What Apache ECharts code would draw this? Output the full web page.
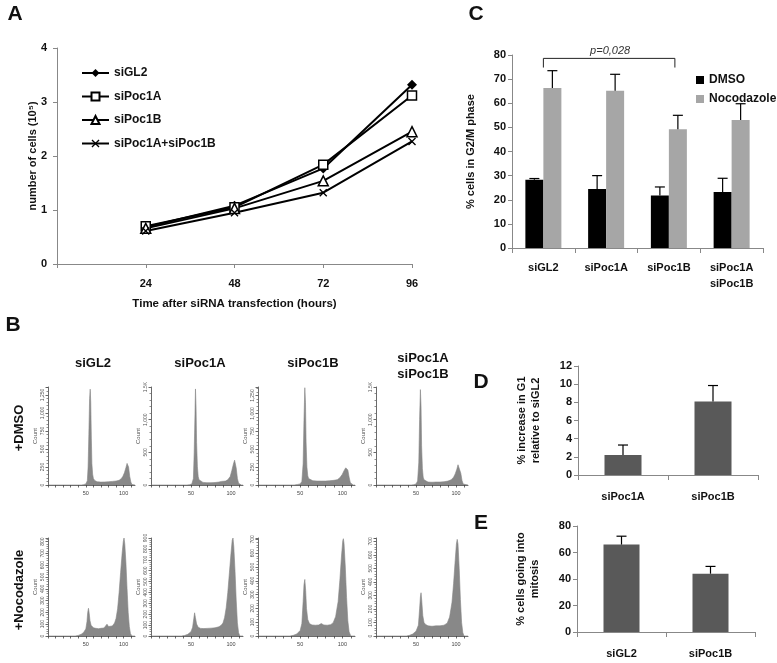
<!DOCTYPE html>
<html><head><meta charset="utf-8">
<script src="https://cdn.jsdelivr.net/npm/echarts/dist/echarts.min.js"></script>
<style>html,body{margin:0;padding:0;background:#fff}#c{width:777px;height:663px}</style>
</head><body><div id="c"></div>
<script>
// ---------- Panel A data ----------
const hoursA = [24, 48, 72, 96];
const aGL2 = [0.68, 1.08, 1.77, 3.32];
const aPoc1A = [0.70, 1.05, 1.84, 3.12];
const aPoc1B = [0.66, 1.03, 1.54, 2.45];
const aPoc1AB = [0.61, 0.95, 1.32, 2.27];
const aTicks = [0, 1, 2, 3, 4];

// ---------- Panel C data ----------
const cCats = ['siGL2', 'siPoc1A', 'siPoc1B', 'siPoc1A\nsiPoc1B'];
const cDMSO = [28.3, 24.5, 21.8, 23.2];
const cDMSOsd = [0.5, 5.5, 3.5, 5.7];
const cNoco = [66.3, 65.2, 49.2, 53.1];
const cNocoSd = [7.2, 6.8, 5.8, 6.7];
const cPText = 'p=0,028';

// ---------- Panel D data ----------
const dCats = ['siPoc1A', 'siPoc1B'];
const dVals = [2.2, 8.1];
const dSd = [1.1, 1.75];

// ---------- Panel E data ----------
const eCats = ['siGL2', 'siPoc1B'];
const eVals = [66, 44];
const eSd = [6.3, 5.5];

// ---------- Panel B histograms (DNA content vs Count) ----------
const bCols = ['siGL2', 'siPoc1A', 'siPoc1B', 'siPoc1A\nsiPoc1B'];
const hDmsoGL2 = [[0,0],[44,0],[47,5],[50,15],[52,60],[53,250],[54,700],[55,1200],[55.8,1330],[56.5,1150],[57.3,650],[58,300],[59,150],[60,90],[62,60],[65,45],[70,40],[75,42],[80,45],[85,50],[90,55],[94,65],[97,90],[99,120],[101,170],[103,240],[104.5,300],[105.5,310],[106.5,250],[108,120],[109.5,40],[111,8],[113,0],[115,0]];
const hDmsoPoc1A = [[0,0],[45,0],[48,5],[51,15],[53,100],[54,500],[55,1100],[55.6,1470],[56.3,1200],[57,650],[58,280],[59,130],[60,80],[62,50],[65,40],[70,35],[75,35],[80,38],[85,45],[88,55],[90,60],[93,60],[96,80],[99,130],[101,220],[103,320],[104.5,380],[105.5,360],[106.5,260],[108,100],[109.5,25],[111,5],[113,0],[115,0]];
const hDmsoPoc1B = [[0,0],[43,0],[47,8],[50,15],[52,50],[53.5,300],[54.5,900],[55.5,1360],[56.3,1150],[57,600],[58,250],[59,130],[60,90],[62,70],[65,60],[70,55],[75,55],[80,55],[85,60],[90,65],[94,75],[97,100],[100,150],[102,200],[104,240],[105.5,250],[106.5,210],[108,110],[109.5,30],[111,5],[113,0],[115,0]];
const hDmsoPoc1AB = [[0,0],[44,0],[47,5],[50,15],[52,60],[53.5,350],[54.5,1000],[55.5,1460],[56.3,1200],[57,600],[58,250],[59,120],[60,80],[62,55],[65,45],[70,42],[75,45],[80,45],[85,50],[90,60],[94,80],[97,120],[99,170],[101,240],[102.5,310],[103.5,330],[104.5,300],[106,180],[107.5,70],[109,15],[111,0],[115,0]];
const hNocoGL2 = [[0,0],[36,0],[40,5],[44,15],[47,30],[50,60],[51.5,120],[52.5,200],[53.5,235],[54.5,190],[55.5,130],[57,90],[60,70],[63,65],[67,62],[70,65],[74,68],[76,75],[78,100],[80,80],[82,82],[85,85],[88,110],[90,150],[92,230],[94,370],[96,540],[98,700],[99.5,800],[100.5,830],[101.5,780],[103,620],[104.5,400],[106,200],[107.5,80],[109,20],[111,0],[115,0]];
const hNocoPoc1A = [[0,0],[38,0],[42,5],[46,15],[50,40],[52,80],[53.5,160],[54.5,213],[55.5,170],[57,110],[59,80],[62,70],[66,68],[70,70],[75,72],[80,75],[85,85],[88,100],[90,120],[92,170],[94,260],[96,400],[98,580],[100,760],[101.5,880],[102.5,900],[103.5,820],[105,600],[106.5,330],[108,120],[109.5,30],[111,0],[115,0]];
const hNocoPoc1B = [[0,0],[38,0],[42,5],[46,15],[50,40],[52,90],[53.5,250],[54.5,370],[55.5,410],[56.5,330],[57.5,200],[59,120],[61,90],[64,80],[68,78],[72,80],[75,90],[78,80],[82,78],[86,82],[89,95],[92,140],[95,250],[97,400],[99,580],[100.5,690],[101.2,705],[102,670],[103.5,500],[105,280],[106.5,110],[108,30],[110,0],[115,0]];
const hNocoPoc1AB = [[0,0],[38,0],[42,5],[46,15],[50,35],[53,80],[54.5,200],[55.5,290],[56.3,320],[57.2,260],[58.5,150],[60,100],[62,85],[65,75],[70,72],[75,75],[80,75],[85,80],[89,95],[92,140],[95,250],[97,390],[99,560],[100.5,680],[101.5,715],[102.5,680],[104,500],[105.5,270],[107,100],[108.5,25],[110,0],[115,0]];
const hMax = [1360, 1500, 1370, 1500, 830, 900, 710, 725];
const hStep = [250, 500, 250, 500, 100, 100, 100, 100];
const hXLabels = [50, 100];

const FONT = "'Liberation Sans', Arial, sans-serif";
const AX = '#888';

const chart = echarts.init(document.getElementById('c'));

const grids = [];
const xAxes = [];
const yAxes = [];
const series = [];

// ---- A ----
grids.push({left: 57, top: 48, width: 355, height: 216});
xAxes.push({gridIndex: 0, type: 'value', min: 0, max: 96, interval: 24,
  axisLine: {lineStyle: {color: AX}}, axisTick: {show: true, length: 4, lineStyle: {color: AX}},
  splitLine: {show: false},
  axisLabel: {formatter: v => v === 0 ? '' : v, fontFamily: FONT, fontWeight: 'bold', fontSize: 11, color: '#111', margin: 14},
  name: 'Time after siRNA transfection (hours)', nameLocation: 'middle', nameGap: 34,
  nameTextStyle: {fontFamily: FONT, fontWeight: 'bold', fontSize: 11.5, color: '#111'}});
yAxes.push({gridIndex: 0, type: 'value', min: aTicks[0], max: aTicks[aTicks.length - 1], interval: 1,
  axisLine: {show: true, lineStyle: {color: AX}}, axisTick: {show: true, length: 4, lineStyle: {color: AX}},
  splitLine: {show: false},
  axisLabel: {fontFamily: FONT, fontWeight: 'bold', fontSize: 11, color: '#111', margin: 10},
  name: 'number of cells (10⁵)', nameLocation: 'middle', nameGap: 19, nameMoveOverlap: false,
  nameTextStyle: {fontFamily: FONT, fontWeight: 'bold', fontSize: 11, color: '#111'}});
const xPath = 'path://M0,1.2L1.2,0L5,3.8L8.8,0L10,1.2L6.2,5L10,8.8L8.8,10L5,6.2L1.2,10L0,8.8L3.8,5Z';
const aSeries = [
  {name: 'siGL2', data: aGL2, symbol: 'diamond', symbolSize: 10, fill: '#000'},
  {name: 'siPoc1A', data: aPoc1A, symbol: 'rect', symbolSize: 9, fill: '#fff'},
  {name: 'siPoc1B', data: aPoc1B, symbol: 'triangle', symbolSize: 10, fill: '#fff'},
  {name: 'siPoc1A+siPoc1B', data: aPoc1AB, symbol: xPath, symbolSize: 8, fill: '#000'}
];
aSeries.forEach(s => {
  series.push({type: 'line', name: s.name, xAxisIndex: 0, yAxisIndex: 0,
    data: hoursA.map((h, i) => [h, s.data[i]]),
    symbol: s.symbol, symbolSize: s.symbolSize, showAllSymbol: true,
    lineStyle: {color: '#000', width: 2},
    itemStyle: {color: s.fill, borderColor: '#000', borderWidth: s.fill === '#fff' ? 1.5 : 0},
    z: 3});
});

// ---- C ----
grids.push({left: 512, top: 55, width: 251, height: 193});
xAxes.push({gridIndex: 1, type: 'category', data: cCats,
  axisLine: {lineStyle: {color: AX}}, axisTick: {show: true, length: 5, lineStyle: {color: AX}},
  axisLabel: {interval: 0, fontFamily: FONT, fontWeight: 'bold', fontSize: 11, color: '#111', margin: 12, lineHeight: 16}});
yAxes.push({gridIndex: 1, type: 'value', min: 0, max: 80, interval: 10,
  axisLine: {show: true, lineStyle: {color: AX}}, axisTick: {show: true, length: 4, lineStyle: {color: AX}},
  splitLine: {show: false},
  axisLabel: {fontFamily: FONT, fontWeight: 'bold', fontSize: 11, color: '#111', margin: 6},
  name: '% cells in G2/M phase', nameLocation: 'middle', nameGap: 36,
  nameTextStyle: {fontFamily: FONT, fontWeight: 'bold', fontSize: 11, color: '#111'}});
series.push({type: 'bar', name: 'DMSO', xAxisIndex: 1, yAxisIndex: 1, data: cDMSO, barWidth: 18, barGap: '0%', itemStyle: {color: '#000'}});
series.push({type: 'bar', name: 'Nocodazole', xAxisIndex: 1, yAxisIndex: 1, data: cNoco, barWidth: 18, barGap: '0%', itemStyle: {color: '#a6a6a6'}});

function errSeries(xi, yi, means, sds, offset, cap) {
  return {type: 'custom', xAxisIndex: xi, yAxisIndex: yi, z: 5,
    data: means.map((m, i) => [i, m, sds[i]]),
    renderItem: function (params, api) {
      const p0 = api.coord([api.value(0), api.value(1)]);
      const p1 = api.coord([api.value(0), api.value(1) + api.value(2)]);
      const x = p0[0] + offset;
      return {type: 'group', children: [
        {type: 'line', shape: {x1: x, y1: p0[1], x2: x, y2: p1[1]}, style: {stroke: '#000', lineWidth: 1.2}},
        {type: 'line', shape: {x1: x - cap, y1: p1[1], x2: x + cap, y2: p1[1]}, style: {stroke: '#000', lineWidth: 1.2}}
      ]};
    }};
}
series.push(errSeries(1, 1, cDMSO, cDMSOsd, -9, 5));
series.push(errSeries(1, 1, cNoco, cNocoSd, 9, 5));
// significance bracket between siGL2 and siPoc1B
series.push({type: 'custom', xAxisIndex: 1, yAxisIndex: 1, z: 6,
  data: [[0, 2, 78.6, 74.8]],
  renderItem: function (params, api) {
    const pL = api.coord([api.value(0), api.value(2)]);
    const pR = api.coord([api.value(1), api.value(2)]);
    const pB = api.coord([api.value(0), api.value(3)]);
    const xR = pR[0] + 6;
    return {type: 'group', children: [
      {type: 'polyline', shape: {points: [[pL[0], pB[1]], [pL[0], pL[1]], [xR, pL[1]], [xR, pB[1]]]}, style: {stroke: '#222', lineWidth: 1, fill: null}},
      {type: 'text', x: (pL[0] + xR) / 2 + 1, y: pL[1] - 2, style: {text: cPText, font: 'italic 11px ' + FONT, fill: '#333', textAlign: 'center', textVerticalAlign: 'bottom'}}
    ]};
  }});

// ---- D ----
grids.push({left: 578, top: 366, width: 180, height: 109});
xAxes.push({gridIndex: 2, type: 'category', data: dCats,
  axisLine: {lineStyle: {color: AX}}, axisTick: {show: true, length: 5, lineStyle: {color: AX}},
  axisLabel: {interval: 0, fontFamily: FONT, fontWeight: 'bold', fontSize: 11, color: '#111', margin: 16}});
yAxes.push({gridIndex: 2, type: 'value', min: 0, max: 12, interval: 2,
  axisLine: {show: true, lineStyle: {color: AX}}, axisTick: {show: true, length: 4, lineStyle: {color: AX}},
  splitLine: {show: false},
  axisLabel: {fontFamily: FONT, fontWeight: 'bold', fontSize: 11, color: '#111', margin: 6},
  name: '% increase in G1\nrelative to siGL2', nameLocation: 'middle', nameGap: 35,
  nameTextStyle: {fontFamily: FONT, fontWeight: 'bold', fontSize: 11, color: '#111', lineHeight: 14}});
series.push({type: 'bar', xAxisIndex: 2, yAxisIndex: 2, data: dVals, barWidth: 37, itemStyle: {color: '#595959'}});
series.push(errSeries(2, 2, dVals, dSd, 0, 5));

// ---- E ----
grids.push({left: 577, top: 526, width: 178, height: 106});
xAxes.push({gridIndex: 3, type: 'category', data: eCats,
  axisLine: {lineStyle: {color: AX}}, axisTick: {show: true, length: 5, lineStyle: {color: AX}},
  axisLabel: {interval: 0, fontFamily: FONT, fontWeight: 'bold', fontSize: 11, color: '#111', margin: 16}});
yAxes.push({gridIndex: 3, type: 'value', min: 0, max: 80, interval: 20,
  axisLine: {show: true, lineStyle: {color: AX}}, axisTick: {show: true, length: 4, lineStyle: {color: AX}},
  splitLine: {show: false},
  axisLabel: {fontFamily: FONT, fontWeight: 'bold', fontSize: 11, color: '#111', margin: 6},
  name: '% cells going into\nmitosis', nameLocation: 'middle', nameGap: 35,
  nameTextStyle: {fontFamily: FONT, fontWeight: 'bold', fontSize: 11, color: '#111', lineHeight: 14}});
series.push({type: 'bar', xAxisIndex: 3, yAxisIndex: 3, data: eVals, barWidth: 36, itemStyle: {color: '#595959'}});
series.push(errSeries(3, 3, eVals, eSd, 0, 5));

// ---- B histograms ----
const hData = [hDmsoGL2, hDmsoPoc1A, hDmsoPoc1B, hDmsoPoc1AB, hNocoGL2, hNocoPoc1A, hNocoPoc1B, hNocoPoc1AB];
const hLeft = [48, 151, 258, 376];
const hWidth = [87, 92, 97, 92];
const hTop = [387, 538];
function fmtCount(v) {
  if (v === 1500) return '1.5K';
  if (v >= 1000) return String(v).replace(/(\d)(\d{3})$/, '$1,$2');
  return String(v);
}
hData.forEach((d, k) => {
  const col = k % 4, row = Math.floor(k / 4);
  const gi = 4 + k;
  grids.push({left: hLeft[col], top: hTop[row], width: hWidth[col], height: 98});
  xAxes.push({gridIndex: gi, type: 'value', min: 0, max: 115, interval: 10,
    axisLine: {lineStyle: {color: '#444', width: 0.8}}, axisTick: {show: true, length: 2.5, lineStyle: {color: '#444', width: 0.8}},
    splitLine: {show: false},
    axisLabel: {formatter: v => hXLabels.indexOf(v) >= 0 ? String(v) : '', fontFamily: FONT, fontSize: 5.5, color: '#444', margin: 5, showMaxLabel: false}});
  const step = hStep[k];
  yAxes.push({gridIndex: gi, type: 'value', min: 0, max: hMax[k], interval: step,
    axisLine: {show: true, lineStyle: {color: '#444', width: 0.8}}, axisTick: {show: true, length: 2.5, lineStyle: {color: '#444', width: 0.8}},
    minorTick: {show: true, splitNumber: 5, length: 1.5, lineStyle: {color: '#444', width: 0.6}},
    splitLine: {show: false},
    axisLabel: {formatter: v => (v % step === 0 ? fmtCount(v) : ''), rotate: 90, fontFamily: FONT, fontSize: 5, color: '#555', margin: 3},
    name: 'Count', nameLocation: 'middle', nameGap: 10,
    nameTextStyle: {fontFamily: FONT, fontSize: 6, color: '#555'}});
  series.push({type: 'line', xAxisIndex: gi, yAxisIndex: gi, data: d, symbol: 'none', smooth: false,
    lineStyle: {color: '#858585', width: 0.6}, areaStyle: {color: '#888888', opacity: 1}});
});

const txt = (text, x, y, font, extra) => Object.assign({type: 'text', x: x, y: y,
  style: {text: text, font: font, fill: '#111', textAlign: 'center', textVerticalAlign: 'middle'}}, extra || {});
const graphics = [
  txt('A', 15, 14, 'bold 21px ' + FONT),
  txt('B', 13, 325, 'bold 21px ' + FONT),
  txt('C', 476, 14, 'bold 21px ' + FONT),
  txt('D', 481, 382, 'bold 21px ' + FONT),
  txt('E', 481, 523, 'bold 21px ' + FONT),
  txt('+DMSO', 19, 428, 'bold 13px ' + FONT, {rotation: Math.PI / 2}),
  txt('+Nocodazole', 19, 590, 'bold 13px ' + FONT, {rotation: Math.PI / 2})
];
const colX = [93, 200, 313, 423];
bCols.forEach((c, i) => {
  graphics.push(txt(c, colX[i], i === 3 ? 366 : 363, 'bold 13px ' + FONT));
  if (i === 3) graphics[graphics.length - 1].style.lineHeight = 16;
});

chart.setOption({
  animation: false,
  textStyle: {fontFamily: FONT},
  grid: grids, xAxis: xAxes, yAxis: yAxes, series: series,
  legend: [
    {data: aSeries.map(s => s.name), orient: 'vertical', left: 76, top: 62, itemWidth: 27, itemHeight: 10, itemGap: 11.5,
      textStyle: {fontFamily: FONT, fontWeight: 'bold', fontSize: 12, color: '#111'}},
    {data: [{name: 'DMSO', icon: 'rect'}, {name: 'Nocodazole', icon: 'rect'}], orient: 'vertical', left: 691, top: 69, itemWidth: 8, itemHeight: 8, itemGap: 7,
      textStyle: {fontFamily: FONT, fontWeight: 'bold', fontSize: 12, color: '#111'}}
  ],
  graphic: graphics
});
</script></body></html>
